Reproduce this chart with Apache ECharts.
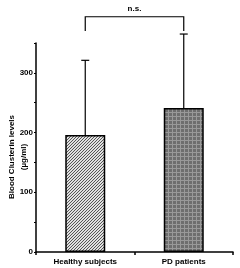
<!DOCTYPE html>
<html><head><meta charset="utf-8">
<script src="https://cdn.jsdelivr.net/npm/echarts@6/dist/echarts.min.js"></script>
<style>html,body{margin:0;padding:0;background:#fff}#c{width:240px;height:268px}</style>
</head><body><div id="c"></div>
<script>
const categories = ['Healthy subjects', 'PD patients'];
const means = [196, 241];
const sds = [125, 124];
const yLabelValues = [0, 100, 200, 300];
const yTitleLines = ['Blood Clusterin levels', '(µg/ml)'];
const sigLabel = 'n.s.';
const bracketTop = 394;
const bracketLeg = 370;
const sigTextLevel = 408;

function hatch() {
  const c = document.createElement('canvas'); c.width = 3; c.height = 3;
  const g = c.getContext('2d');
  g.fillStyle = '#e0e0e0'; g.fillRect(0, 0, 3, 3);
  g.fillStyle = '#555';
  g.fillRect(2, 0, 1, 1); g.fillRect(1, 1, 1, 1); g.fillRect(0, 2, 1, 1);
  return c;
}
function grid() {
  const c = document.createElement('canvas'); c.width = 4; c.height = 4;
  const g = c.getContext('2d');
  g.fillStyle = '#6e6e6e'; g.fillRect(0, 0, 4, 4);
  g.fillStyle = '#999';
  g.fillRect(0, 0, 4, 1); g.fillRect(0, 0, 1, 4);
  return c;
}
const patterns = [hatch(), grid()];
const font = 'Liberation Sans, Arial, sans-serif';

const chart = echarts.init(document.getElementById('c'));
chart.setOption({
  animation: false,
  grid: { left: 36, right: 7, top: 43, bottom: 16, containLabel: false, outerBoundsMode: 'none' },
  graphic: [
    { type: 'text', x: 12, y: 157, rotation: Math.PI / 2,
      style: { text: yTitleLines[0], fill: '#000', font: 'bold 8px ' + font, align: 'center', verticalAlign: 'middle' } },
    { type: 'text', x: 24, y: 157, rotation: Math.PI / 2,
      style: { text: yTitleLines[1], fill: '#000', font: 'bold 8px ' + font, align: 'center', verticalAlign: 'middle' } }
  ],
  xAxis: {
    type: 'category', data: categories,
    axisLine: { lineStyle: { color: '#000', width: 1.5 } },
    axisTick: { show: true, length: 3, lineStyle: { color: '#000', width: 1.5 } },
    axisLabel: { color: '#000', fontSize: 8, fontWeight: 'bold', fontFamily: font, margin: 6 }
  },
  yAxis: {
    type: 'value', min: 0, max: 350, interval: 50,
    axisLine: { show: true, lineStyle: { color: '#000', width: 1.5 } },
    axisTick: { show: true, length: 2, lineStyle: { color: '#000', width: 1 } },
    splitLine: { show: false },
    axisLabel: {
      color: '#000', fontSize: 8, fontWeight: 'bold', fontFamily: font, margin: 3, padding: [0, 0, 3, 0],
      formatter: v => yLabelValues.includes(v) ? String(v) : ''
    }
  },
  series: [
    {
      type: 'bar', barWidth: 40,
      data: means.map((m, i) => ({ value: m, itemStyle: { color: { image: patterns[i], repeat: 'repeat' }, borderColor: '#000', borderWidth: 1.5 } }))
    },
    {
      type: 'custom', clip: false, z: 5,
      data: means.map((m, i) => [i, m, m + sds[i]]),
      renderItem: (params, api) => {
        const b = api.coord([api.value(0), api.value(1)]);
        const t = api.coord([api.value(0), api.value(2)]);
        const s = { stroke: '#000', lineWidth: 1.2 };
        return { type: 'group', children: [
          { type: 'line', shape: { x1: b[0], y1: b[1], x2: t[0], y2: t[1] }, style: s },
          { type: 'line', shape: { x1: t[0] - 4, y1: t[1], x2: t[0] + 4, y2: t[1] }, style: s }
        ] };
      }
    },
    {
      type: 'custom', clip: false, z: 5,
      data: [[0, 1, bracketTop, bracketLeg, sigTextLevel]],
      renderItem: (params, api) => {
        const a = api.coord([api.value(0), api.value(3)]);
        const a2 = api.coord([api.value(0), api.value(2)]);
        const b2 = api.coord([api.value(1), api.value(2)]);
        const b = api.coord([api.value(1), api.value(3)]);
        const tx = api.coord([0.5, api.value(4)]);
        return { type: 'group', children: [
          { type: 'polyline', shape: { points: [a, a2, b2, b] }, style: { stroke: '#000', lineWidth: 1.2, fill: null } },
          { type: 'text', x: (a[0] + b[0]) / 2, y: tx[1], style: { text: sigLabel, fill: '#000', font: 'bold 8px ' + font, align: 'center', verticalAlign: 'middle' } }
        ] };
      }
    }
  ]
});
</script></body></html>
